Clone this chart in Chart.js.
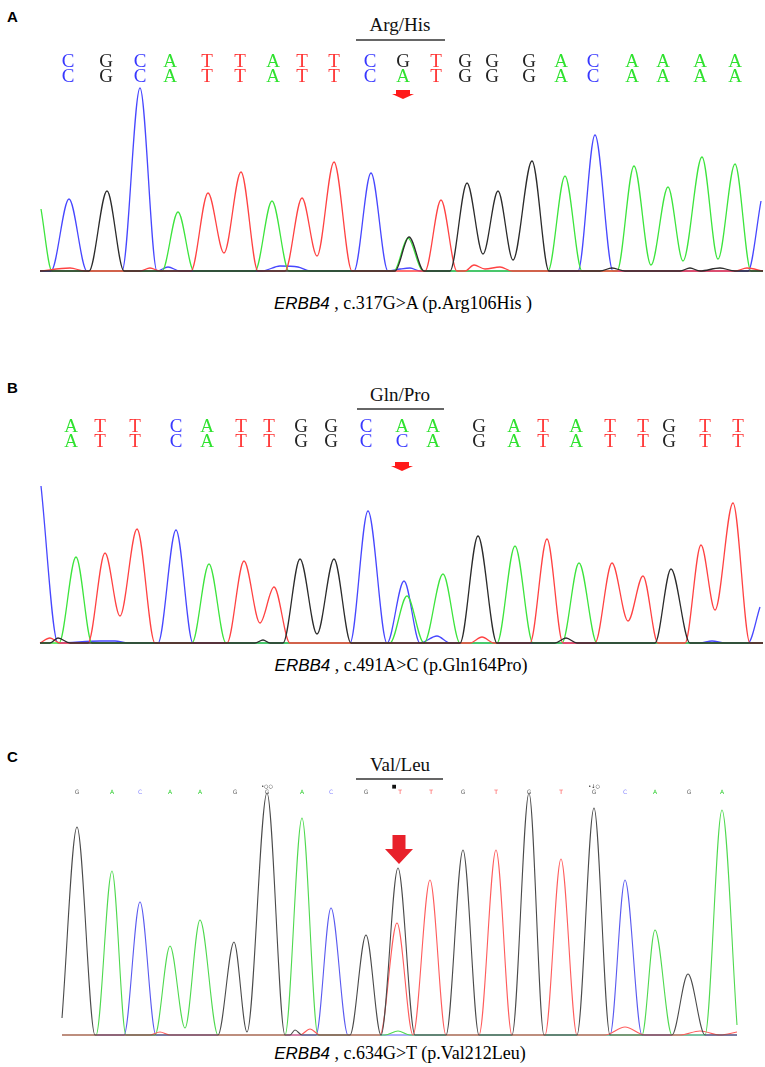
<!DOCTYPE html>
<html>
<head>
<meta charset="utf-8">
<script src="https://cdn.jsdelivr.net/npm/chart.js@4.4.1/dist/chart.umd.min.js"></script>
<style>
body { margin: 0; background: #fff; }
#fig { position: relative; width: 765px; height: 1067px; overflow: hidden; }
canvas { position: absolute; left: 0; }
.lab { position: absolute; left: 7px; font: bold 15px/15px "Liberation Sans", Arial, sans-serif; color: #000; }
.ttl { position: absolute; left: 400px; transform: translateX(-50%); font: 19px/19px "Liberation Serif", "Times New Roman", serif; color: #111; white-space: nowrap; }
.cap { position: absolute; transform: translateX(-50%); font: 18px/18px "Liberation Serif", "Times New Roman", serif; color: #000; white-space: nowrap; }
.cap i { font-family: "Liberation Sans", Arial, sans-serif; font-size: 17px; }
</style>
</head>
<body>
<div id="fig">
  <div class="lab" style="top:9px">A</div>
  <div class="ttl" style="top:15px">Arg/His</div>
  <canvas id="chartA" width="765" height="280" style="top:0px"></canvas>
  <div class="cap" style="left:403px;top:294px"><i>ERBB4</i> , c.317G&gt;A (p.Arg106His )</div>

  <div class="lab" style="top:380px">B</div>
  <div class="ttl" style="top:385px">Gln/Pro</div>
  <canvas id="chartB" width="765" height="280" style="top:370px"></canvas>
  <div class="cap" style="left:401px;top:656px"><i>ERBB4</i> , c.491A&gt;C (p.Gln164Pro)</div>

  <div class="lab" style="top:749px">C</div>
  <div class="ttl" style="top:755px">Val/Leu</div>
  <canvas id="chartC" width="765" height="302" style="top:740px"></canvas>
  <div class="cap" style="left:400px;top:1044px"><i>ERBB4</i> , c.634G&gt;T (p.Val212Leu)</div>
</div>
<script>
// scan position vs. signal intensity, peaks and valleys

// --- panel A: c.317G>A ---
const aGreen = [[41,620],[52,0],[162,0],[178,590],[194,0],[255,0],[272,700],[289,0],[394,0],[408,330],[423,0],[548,0],[565,950],[582,0],[617,0],[634,1050],[651,60],[668,840],[683,100],[702,1140],[718,120],[735,1070],[751,0],[763,0]];
const aBlue = [[40,0],[51,0],[69,720],[87,0],[122,0],[140,1830],[157,0],[168,40],[180,0],[262,0],[280,50],[298,40],[310,0],[354,0],[371,980],[388,0],[400,20],[410,30],[420,0],[578,0],[595,1360],[613,0],[748,0],[761,700]];
const aBlack = [[40,0],[89,0],[107,800],[124,0],[395,0],[409,340],[424,0],[450,0],[467,880],[483,170],[498,800],[513,110],[532,1100],[549,0],[600,0],[612,30],[625,0],[680,0],[690,30],[700,0],[720,30],[735,0],[763,0]];
const aRed = [[40,0],[70,30],[85,0],[140,0],[150,30],[160,0],[191,0],[208,780],[224,180],[241,990],[258,0],[285,0],[302,730],[317,150],[334,1090],[352,0],[425,0],[441,710],[457,0],[465,0],[474,60],[485,20],[500,40],[512,0],[735,0],[747,30],[763,0]];
const aCalls1 = ['C','G','C','A','T','T','A','T','T','C','G','T','G','G','G','A','C','A','A','A','A'];
const aCalls2 = ['C','G','C','A','T','T','A','T','T','C','A','T','G','G','G','A','C','A','A','A','A'];
const aCallPos = [68,106,140,170,207,240,273,302,334,370,403,436,465,492,529,561,593,632,663,700,735];
const aCodon = [356, 445];
const aMutation = 403;

// --- panel B: c.491A>C ---
const bBlue = [[41,1570],[58,0],[100,20],[115,20],[128,0],[158,0],[176,1130],[193,0],[350,0],[368,1320],[387,0],[404,620],[420,0],[437,70],[450,0],[700,0],[712,20],[725,0],[748,0],[760,360]];
const bGreen = [[40,0],[59,0],[76,860],[92,0],[192,0],[209,790],[226,0],[390,0],[407,470],[424,0],[443,690],[460,0],[497,0],[515,970],[533,0],[562,0],[579,800],[597,0],[763,0]];
const bRed = [[40,0],[50,50],[60,0],[88,0],[105,900],[120,270],[137,1140],[155,0],[227,0],[244,820],[260,200],[274,560],[290,0],[470,0],[482,60],[494,0],[530,0],[547,1040],[563,0],[595,0],[612,800],[628,220],[643,670],[658,0],[685,0],[701,980],[715,330],[733,1400],[750,0],[763,0]];
const bBlack = [[40,0],[50,0],[58,50],[70,0],[255,0],[263,30],[270,0],[283,0],[300,840],[317,90],[334,840],[351,0],[460,0],[478,1070],[497,0],[555,0],[566,50],[577,0],[655,0],[671,740],[690,0],[763,0]];
const bCalls1 = ['A','T','T','C','A','T','T','G','G','C','A','A','G','A','T','A','T','T','G','T','T'];
const bCalls2 = ['A','T','T','C','A','T','T','G','G','C','C','A','G','A','T','A','T','T','G','T','T'];
const bCallPos = [71,100,135,176,207,241,269,301,331,366,402,433,479,514,543,576,610,643,669,705,738];
const bCodon = [357, 444];
const bMutation = 402;

// --- panel C: c.634G>T ---
const cBlack = [[62,170],[77,2080],[95,0],[218,0],[234,930],[247,30],[267,2420],[285,0],[290,0],[295,50],[302,0],[350,0],[366,1000],[381,0],[398,1670],[415,0],[446,0],[463,1850],[479,0],[512,0],[529,2420],[544,0],[577,0],[594,2270],[610,0],[672,0],[688,610],[705,0],[737,0]];
const cGreen = [[62,0],[96,0],[112,1640],[126,0],[155,0],[170,890],[185,70],[200,1150],[218,0],[285,0],[302,2170],[318,0],[385,0],[398,40],[410,0],[642,0],[655,1050],[672,0],[705,0],[722,2250],[737,100]];
const cBlue = [[62,0],[124,0],[140,1330],[156,0],[316,0],[331,1270],[348,0],[610,0],[625,1550],[642,0],[737,0]];
const cRed = [[62,0],[150,0],[160,30],[170,0],[300,0],[310,60],[320,0],[380,0],[397,1120],[413,0],[430,1550],[446,0],[479,0],[496,1850],[512,0],[545,0],[561,1760],[577,0],[605,0],[625,80],[645,0],[680,0],[700,40],[720,0],[737,30]];
const cCalls = ['G','A','C','A','A','G','G','A','C','G','T','T','G','T','G','T','G','C','A','G','A'];
const cCallPos = [77,112,140,170,200,235,267,302,331,366,400,431,463,496,529,561,594,625,655,689,722];
const cFlags = [[267,'•○○'],[594,'•↓○'],[394,'■']];
const cCodon = [356, 443];
const cMutation = 399;

const baseColorsAB = { A: '#2fe22f', C: '#3737ff', G: '#222222', T: '#ff3434' };
const baseColorsC = { A: '#2fcf2f', C: '#8a8aff', G: '#666666', T: '#ff4a4a' };

const seqPlugin = {
  id: 'seq',
  afterDraw(chart, args, opts) {
    const ctx = chart.ctx;
    const xs = chart.scales.x;
    ctx.save();
    ctx.textAlign = 'center';
    ctx.textBaseline = 'middle';
    ctx.font = opts.font;
    opts.rows.forEach(row => {
      row.calls.forEach((b, i) => {
        ctx.fillStyle = opts.colors[b];
        ctx.fillText(b, xs.getPixelForValue(opts.pos[i]), row.y);
      });
    });
    if (opts.flags) {
      ctx.font = opts.flagFont;
      ctx.fillStyle = '#111';
      opts.flags.forEach(f => ctx.fillText(f[1], xs.getPixelForValue(f[0]), opts.flagY));
    }
    // line over the codon
    ctx.strokeStyle = '#333';
    ctx.lineWidth = 1.4;
    ctx.beginPath();
    ctx.moveTo(xs.getPixelForValue(opts.codon[0]), opts.codonY);
    ctx.lineTo(xs.getPixelForValue(opts.codon[1]), opts.codonY);
    ctx.stroke();
    // arrow at the variant
    const a = opts.arrow;
    const ax = xs.getPixelForValue(a.at);
    ctx.fillStyle = a.color;
    ctx.beginPath();
    ctx.moveTo(ax - a.shaftW / 2, a.top);
    ctx.lineTo(ax + a.shaftW / 2, a.top);
    ctx.lineTo(ax + a.shaftW / 2, a.top + a.shaftH);
    ctx.lineTo(ax + a.headW / 2, a.top + a.shaftH);
    ctx.lineTo(ax, a.top + a.shaftH + a.headH);
    ctx.lineTo(ax - a.headW / 2, a.top + a.shaftH);
    ctx.lineTo(ax - a.shaftW / 2, a.top + a.shaftH);
    ctx.closePath();
    ctx.fill();
    ctx.restore();
  }
};

function trace(pts, color, width) {
  return {
    data: pts.map(p => ({ x: p[0], y: p[1] })),
    borderColor: color,
    borderWidth: width,
    pointRadius: 0,
    fill: false,
    cubicInterpolationMode: 'monotone'
  };
}

function chromatogram(id, datasets, yMin, yMax, pad, seq) {
  return new Chart(document.getElementById(id), {
    type: 'line',
    data: { datasets: datasets },
    options: {
      responsive: false,
      animation: false,
      layout: { padding: { top: pad[0], bottom: pad[1], left: 0, right: 0 } },
      scales: {
        x: { type: 'linear', min: 0, max: 765, display: false },
        y: { min: yMin, max: yMax, display: false }
      },
      plugins: {
        legend: { display: false },
        tooltip: { enabled: false },
        seq: seq
      }
    },
    plugins: [seqPlugin]
  });
}

const callFont = '19px "Liberation Serif", "Times New Roman", serif';

chromatogram('chartA', [
  trace(aBlack, '#2b2b2b', 1.3),
  trace(aRed, '#ff4242', 1.3),
  trace(aGreen, '#3de43d', 1.3),
  trace(aBlue, '#4747ff', 1.3)
], -50, 1910, [80, 4], {
  font: callFont,
  colors: baseColorsAB,
  pos: aCallPos,
  rows: [{ calls: aCalls1, y: 62 }, { calls: aCalls2, y: 77 }],
  codon: aCodon, codonY: 40,
  arrow: { at: aMutation, top: 90, shaftW: 14, shaftH: 4, headW: 22, headH: 5, color: '#ff1a1a' }
});

chromatogram('chartB', [
  trace(bBlack, '#2b2b2b', 1.3),
  trace(bRed, '#ff4242', 1.3),
  trace(bGreen, '#3de43d', 1.3),
  trace(bBlue, '#4747ff', 1.3)
], -50, 1730, [100, 2], {
  font: callFont,
  colors: baseColorsAB,
  pos: bCallPos,
  rows: [{ calls: bCalls1, y: 57 }, { calls: bCalls2, y: 72 }],
  codon: bCodon, codonY: 39,
  arrow: { at: bMutation, top: 92, shaftW: 14, shaftH: 4, headW: 22, headH: 5, color: '#ff1a1a' }
});

chromatogram('chartC', [
  trace(cBlack, '#4a4a4a', 1.1),
  trace(cRed, '#ff5c5c', 1.1),
  trace(cGreen, '#4fd94f', 1.1),
  trace(cBlue, '#5a5af0', 1.1)
], -50, 2500, [45, 2], {
  font: '6px "DejaVu Sans", sans-serif',
  colors: baseColorsC,
  pos: cCallPos,
  rows: [{ calls: cCalls, y: 52 }],
  flags: cFlags, flagY: 47, flagFont: '5px "DejaVu Sans", sans-serif',
  codon: cCodon, codonY: 39,
  arrow: { at: cMutation, top: 95, shaftW: 13, shaftH: 14, headW: 28, headH: 15, color: '#e8212b' }
});
</script>
</body>
</html>
